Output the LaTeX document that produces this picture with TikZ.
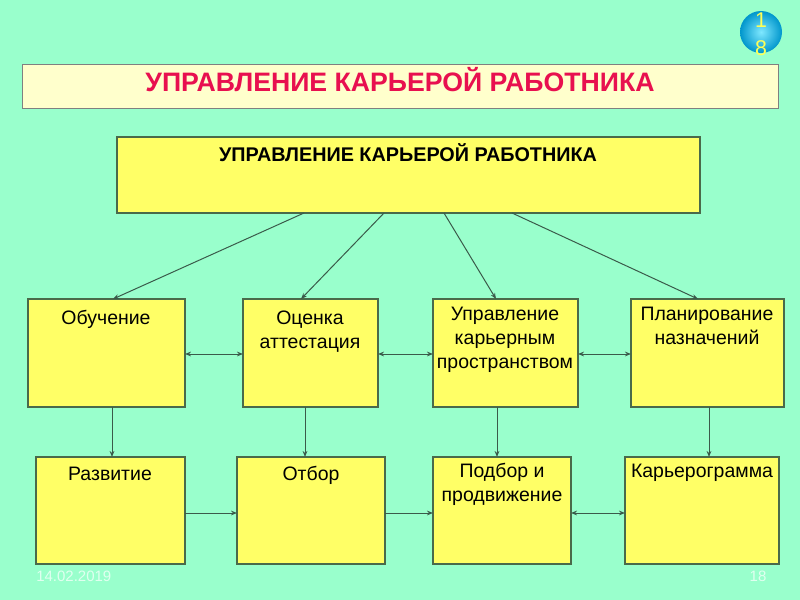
\documentclass[tikz,border=0pt]{standalone}
\usepackage{fontspec}
\setmainfont{Liberation Sans}
\usetikzlibrary{arrows.meta}
\definecolor{bg}{HTML}{99FFCC}
\definecolor{boxy}{HTML}{FFFF66}
\definecolor{bord}{HTML}{4A6A4A}
\definecolor{lin}{HTML}{3A5A4A}
\definecolor{titlefill}{HTML}{FFFFCC}
\definecolor{titlered}{HTML}{E8104F}
\definecolor{foot}{HTML}{E0FFF0}
\definecolor{ballin}{HTML}{7FE8FF}
\definecolor{ballout}{HTML}{0096CC}
\definecolor{digit}{HTML}{FFFF55}
\newdimen\px \px=0.75pt
\begin{document}
\begin{tikzpicture}[x=0.75pt,y=-0.75pt,
  box/.style={draw=bord, fill=boxy, line width=0.8pt, anchor=north west, inner sep=0pt, outer sep=0pt},
  lbl/.style={anchor=base, inner sep=0pt, align=center, font=\fontsize{14.6}{18}\selectfont},
  con/.style={draw=lin, line width=0.75pt, -{Stealth[length=4.5pt,width=3.5pt]}},
  dcon/.style={draw=lin, line width=0.75pt, {Stealth[length=4.5pt,width=3.5pt]}-{Stealth[length=4.5pt,width=3.5pt]}}]
\fill[bg] (0,0) rectangle (800,600);
\useasboundingbox (0,0) rectangle (800,600);

% slide number ball
\shade[inner color=ballin, outer color=ballout] (761,32) circle[radius=21];
\node[inner sep=0pt, text=digit, font=\fontsize{16}{16}\selectfont] (d1) at (761,20) {1};
\node[inner sep=0pt, text=digit, font=\fontsize{16}{16}\selectfont] (d8) at (761,48) {8};

% title bar
\node[anchor=north west, draw=gray, fill=titlefill, line width=1pt, minimum width=756\px, minimum height=44\px, inner sep=0pt] (title) at (22,64) {};
\node[anchor=base, inner sep=0pt, text=titlered, font=\fontsize{20}{20}\selectfont\bfseries] (titletext) at (400,91) {УПРАВЛЕНИЕ КАРЬЕРОЙ РАБОТНИКА};

% main box
\node[box, minimum width=583\px, minimum height=76\px] (main) at (117,137) {};
\node[lbl, font=\fontsize{14.85}{18}\selectfont\bfseries] (maintext) at (408,161) {УПРАВЛЕНИЕ КАРЬЕРОЙ РАБОТНИКА};

% row 1 (multi-line labels are placed by the baseline of their last line)
\node[box, minimum width=157\px, minimum height=108\px] (ob) at (28,299) {};
\node[box, minimum width=135\px, minimum height=108\px] (oc) at (243,299) {};
\node[box, minimum width=145\px, minimum height=108\px] (up) at (433,299) {};
\node[box, minimum width=153\px, minimum height=108\px] (pl) at (631,299) {};
\node[lbl] (obt) at (106,324) {Обучение};
\node[lbl] (oct) at (310,348) {Оценка\\аттестация};
\node[lbl] (upt) at (505,368) {Управление\\карьерным\\пространством};
\node[lbl] (plt) at (707,344) {Планирование\\назначений};

% row 2
\node[box, minimum width=149\px, minimum height=107\px] (ra) at (36,457) {};
\node[box, minimum width=148\px, minimum height=107\px] (ot) at (237,457) {};
\node[box, minimum width=138\px, minimum height=107\px] (po) at (433,457) {};
\node[box, minimum width=154\px, minimum height=107\px] (ka) at (625,457) {};
\node[lbl] (rat) at (110,480) {Развитие};
\node[lbl] (ott) at (311,480) {Отбор};
\node[lbl] (pot) at (502,501) {Подбор и\\продвижение};
\node[lbl] (kat) at (702,477) {Карьерограмма};

% connectors from main box
\draw[con] (304,0 |- main.south) -- (113,0 |- ob.north);
\draw[con] (384,0 |- main.south) -- (301,0 |- oc.north);
\draw[con] (444,0 |- main.south) -- (496,0 |- up.north);
\draw[con] (512,0 |- main.south) -- (698,0 |- pl.north);

% row 1 horizontal
\draw[dcon] (ob.east |- 0,354) -- (oc.west |- 0,354);
\draw[dcon] (oc.east |- 0,354) -- (up.west |- 0,354);
\draw[dcon] (up.east |- 0,354) -- (pl.west |- 0,354);

% vertical
\draw[con] (112,0 |- ob.south) -- (112,0 |- ra.north);
\draw[con] (305,0 |- oc.south) -- (305,0 |- ot.north);
\draw[con] (497,0 |- up.south) -- (497,0 |- po.north);
\draw[con] (709,0 |- pl.south) -- (709,0 |- ka.north);

% row 2 horizontal
\draw[con] (ra.east |- 0,513) -- (ot.west |- 0,513);
\draw[con] (ot.east |- 0,513) -- (po.west |- 0,513);
\draw[dcon] (po.east |- 0,513) -- (ka.west |- 0,513);

% footer
\node[anchor=base west, inner sep=0pt, text=foot, font=\fontsize{11.25}{12}\selectfont] (date) at (36,581) {14.02.2019};
\node[anchor=base, inner sep=0pt, text=foot, font=\fontsize{11.25}{12}\selectfont] (num) at (758,581) {18};
\end{tikzpicture}
\end{document}
